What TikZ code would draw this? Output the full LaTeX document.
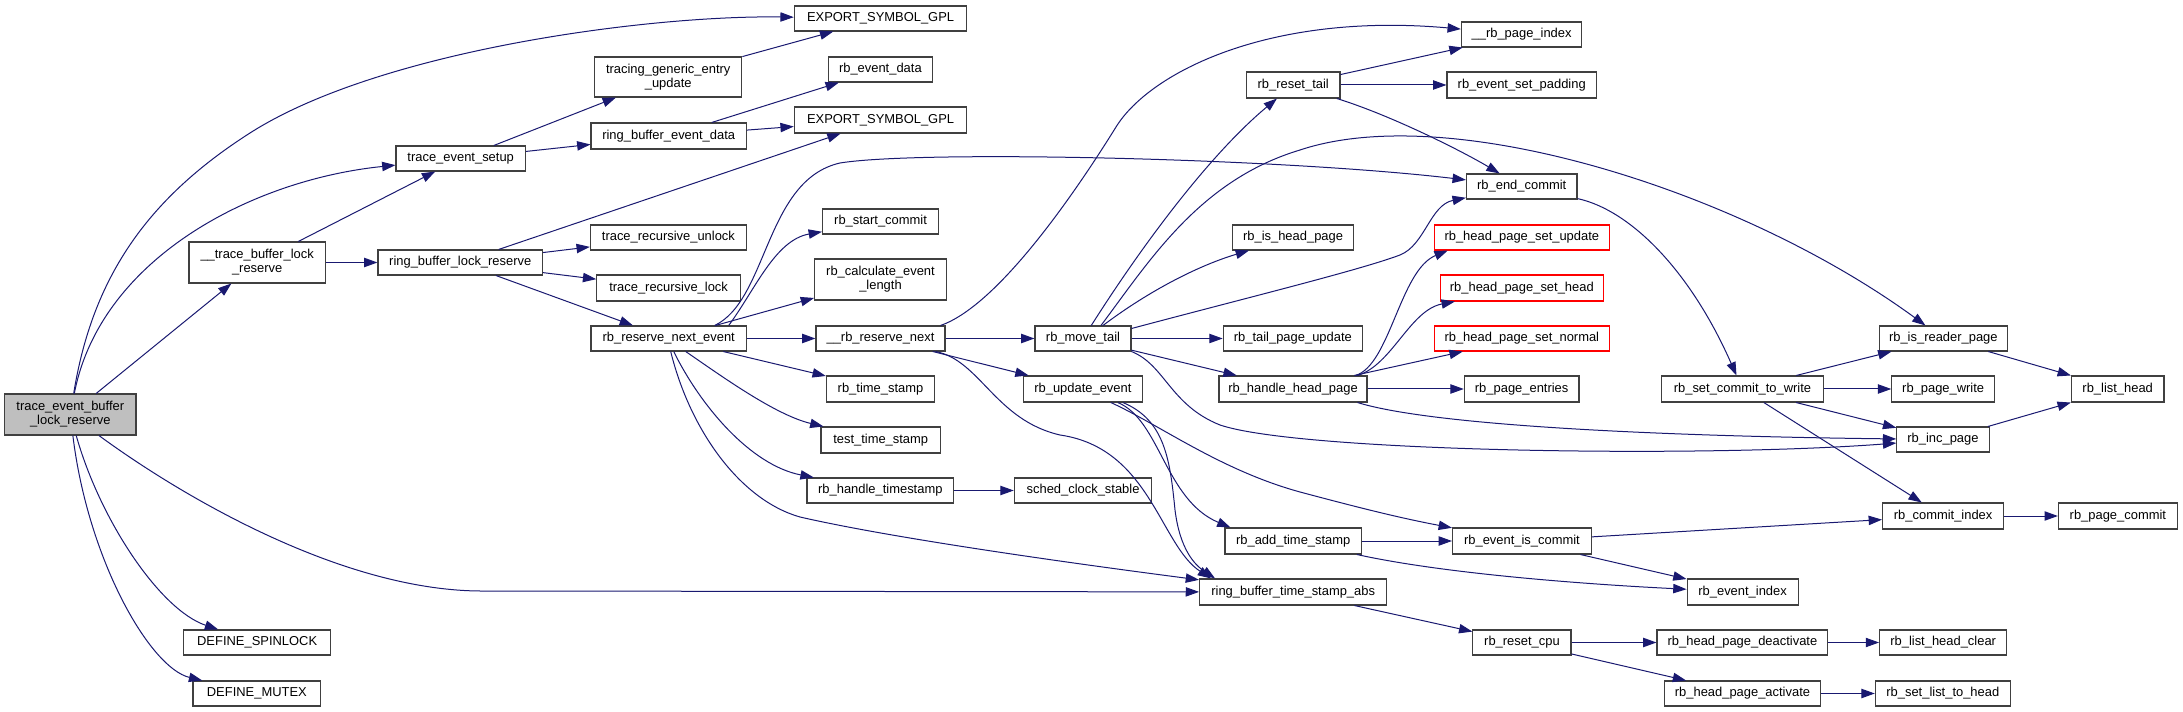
\documentclass[tikz,border=0pt]{standalone}
\usepackage{fontspec}
\setmainfont{Liberation Sans}
\usetikzlibrary{arrows.meta,calc}
\definecolor{edgecol}{HTML}{191970}
\definecolor{boxcol}{HTML}{404040}
\definecolor{rootfill}{HTML}{BFBFBF}
\tikzset{
  fn/.style={draw=boxcol, line width=0.8pt, fill=white, inner sep=0pt, align=center,
    font=\fontsize{9.7}{10.5}\selectfont},
  rootfn/.style={fill=rootfill},
  undoc/.style={draw=red},
  call/.style={draw=edgecol, line width=0.75pt, -{Triangle[length=10pt,width=7pt]}}
}
\newcommand{\fnode}[7][]{\node[fn,#1,minimum width={(#5-#3)*0.75pt},minimum height={(#6-#4)*0.75pt}] (#2) at ({(#3+#5)/2},{(#4+#6)/2}) {#7};}
\begin{document}
\begin{tikzpicture}[x=0.75pt,y=-0.75pt]
\useasboundingbox (0,0) rectangle (2183,712);
% nodes
\fnode[rootfn]{tebr}{4.6}{394}{136}{435}{trace\_event\_buffer\\\_lock\_reserve}
\fnode{tblr}{189}{242}{325.4}{283}{\_\_trace\_buffer\_lock\\\_reserve}
\fnode{spin}{183.6}{630}{330.7}{655}{DEFINE\_SPINLOCK}
\fnode{mutex}{193}{681}{320.7}{706}{DEFINE\_MUTEX}
\fnode{tes}{396}{146}{525.4}{171}{trace\_event\_setup}
\fnode{rblr}{378}{250}{542.5}{275}{ring\_buffer\_lock\_reserve}
\fnode{esg1}{794.3}{6}{966.8}{31}{EXPORT\_SYMBOL\_GPL}
\fnode{tgeu}{594.6}{57}{741.8}{97}{tracing\_generic\_entry\\\_update}
\fnode{red}{828.2}{57}{932.5}{82}{rb\_event\_data}
\fnode{rbed}{591}{123}{746.4}{149}{ring\_buffer\_event\_data}
\fnode{esg2}{794.3}{107}{966.8}{133}{EXPORT\_SYMBOL\_GPL}
\fnode{tru}{590.4}{225}{746.4}{250}{trace\_recursive\_unlock}
\fnode{trl}{596.8}{275}{740.4}{301}{trace\_recursive\_lock}
\fnode{rrne}{591}{326}{746.4}{351}{rb\_reserve\_next\_event}
\fnode{rsc}{822.5}{209}{938.6}{234}{rb\_start\_commit}
\fnode{rcel}{814.6}{259}{946.4}{300}{rb\_calculate\_event\\\_length}
\fnode{rrn}{816}{326}{945}{351}{\_\_rb\_reserve\_next}
\fnode{rts}{826.4}{376}{934.6}{402}{rb\_time\_stamp}
\fnode{tts}{821}{427}{940.4}{453}{test\_time\_stamp}
\fnode{rhts}{807}{478}{953.6}{503}{rb\_handle\_timestamp}
\fnode{scs}{1014.3}{478}{1151.8}{503}{sched\_clock\_stable}
\fnode{rue}{1023.2}{376}{1142.5}{402}{rb\_update\_event}
\fnode{rmt}{1035}{326}{1131}{351}{rb\_move\_tail}
\fnode{rpi}{1461.4}{22}{1581.8}{47}{\_\_rb\_page\_index}
\fnode{rrt}{1246.4}{72}{1340}{98}{rb\_reset\_tail}
\fnode{resp}{1447}{72}{1596.4}{98}{rb\_event\_set\_padding}
\fnode{rec}{1466.4}{174}{1577}{199}{rb\_end\_commit}
\fnode{rihp}{1232.9}{225}{1353.2}{250}{rb\_is\_head\_page}
\fnode[undoc]{rhpsu}{1434.3}{225}{1609.3}{250}{rb\_head\_page\_set\_update}
\fnode[undoc]{rhpsh}{1440.4}{275}{1603.2}{301}{rb\_head\_page\_set\_head}
\fnode{rtpu}{1223.2}{326}{1362.5}{351}{rb\_tail\_page\_update}
\fnode[undoc]{rhpsn}{1434.3}{326}{1609.3}{351}{rb\_head\_page\_set\_normal}
\fnode{rhhp}{1219}{376}{1367}{402}{rb\_handle\_head\_page}
\fnode{rpe}{1464.3}{376}{1579}{402}{rb\_page\_entries}
\fnode{rats}{1225}{528}{1361.4}{554}{rb\_add\_time\_stamp}
\fnode{reic}{1452.5}{528}{1591.4}{554}{rb\_event\_is\_commit}
\fnode{rbtsa}{1199.6}{579}{1386.8}{605}{ring\_buffer\_time\_stamp\_abs}
\fnode{rrc}{1472.9}{630}{1571}{655}{rb\_reset\_cpu}
\fnode{rirp}{1879.2}{326}{2007.4}{351}{rb\_is\_reader\_page}
\fnode{rscw}{1661.7}{376}{1823.2}{402}{rb\_set\_commit\_to\_write}
\fnode{rpw}{1891.8}{376}{1994.5}{402}{rb\_page\_write}
\fnode{rlh}{2071.3}{376}{2164}{402}{rb\_list\_head}
\fnode{rip}{1896.8}{427}{1989.1}{452}{rb\_inc\_page}
\fnode{rci}{1882.5}{503}{2003.8}{529}{rb\_commit\_index}
\fnode{rpc}{2058.4}{503}{2177.3}{529}{rb\_page\_commit}
\fnode{rei}{1687.1}{579}{1798.1}{605}{rb\_event\_index}
\fnode{rhpd}{1657}{630}{1827.9}{655}{rb\_head\_page\_deactivate}
\fnode{rlhc}{1879.6}{630}{2006.7}{655}{rb\_list\_head\_clear}
\fnode{rhpa}{1664.5}{681}{1820.4}{706}{rb\_head\_page\_activate}
\fnode{rsltoh}{1875.3}{681}{2010.3}{706}{rb\_set\_list\_to\_head}
% edges from trace_event_buffer_lock_reserve
\draw[call] (tebr) .. controls (92,280) and (145,200) .. (250,133) .. controls (380,50) and (650,15) .. (esg1);
\draw[call] (tebr) .. controls (100,260) and (250,180) .. (tes);
\draw[call] (tebr) -- (tblr);
\draw[call] (tebr) .. controls (180,495) and (340,590) .. (480,591) -- (rbtsa);
\draw[call] (tebr) .. controls (100,520) and (160,610) .. (spin);
\draw[call] (tebr) .. controls (88,560) and (150,668) .. (mutex);
% __trace_buffer_lock_reserve
\draw[call] (tblr) -- (tes);
\draw[call] (tblr) -- (rblr);
% trace_event_setup
\draw[call] (tes) -- (tgeu);
\draw[call] (tes) -- (rbed);
\draw[call] (tgeu) -- (esg1);
\draw[call] (rbed) -- (red);
\draw[call] (rbed) -- (esg2);
% ring_buffer_lock_reserve
\draw[call] (rblr) -- (esg2);
\draw[call] (rblr) -- (tru);
\draw[call] (rblr) -- (trl);
\draw[call] (rblr) -- (rrne);
% rb_reserve_next_event
\draw[call] ($(rrne.north)+(46,0)$) .. controls (768,300) and (765,180) .. (840,163) .. controls (920,150) and (1280,158) .. (rec);
\draw[call] ($(rrne.north)+(60,0)$) .. controls (755,290) and (775,240) .. (rsc);
\draw[call] (rrne) -- (rcel);
\draw[call] (rrne) -- (rrn);
\draw[call] (rrne) -- (rts);
\draw[call] ($(rrne.south)+(17,0)$) .. controls (720,375) and (775,415) .. (tts);
\draw[call] ($(rrne.south)+(5,0)$) .. controls (700,405) and (750,465) .. (rhts);
\draw[call] ($(rrne.south)+(2,0)$) .. controls (690,430) and (740,500) .. (800,517) .. controls (900,540) and (1100,567) .. (rbtsa);
\draw[call] (rhts) -- (scs);
% __rb_reserve_next
\draw[call] ($(rrn.north)+(60,0)$) .. controls (1000,305) and (1080,185) .. (1116,127) .. controls (1150,72) and (1270,12) .. (rpi);
\draw[call] (rrn) -- (rmt);
\draw[call] (rrn) -- (rue);
\draw[call] ($(rrn.south)+(55,0)$) .. controls (980,360) and (995,420) .. (1060,435) .. controls (1150,448) and (1160,545) .. ($(rbtsa.north west)+(12,0)$);
% rb_move_tail
\draw[call] (rmt) .. controls (1150,233) and (1215,150) .. (rrt);
\draw[call] ($(rmt.north)+(18,0)$) .. controls (1150,260) and (1200,180) .. (1300,150) .. controls (1450,100) and (1740,190) .. (rirp);
\draw[call] ($(rmt.east)+(0,-10)$) .. controls (1250,297) and (1360,270) .. (1400,255) .. controls (1425,245) and (1430,205) .. (rec);
\draw[call] ($(rmt.north)+(20,0)$) .. controls (1150,290) and (1200,265) .. (rihp);
\draw[call] (rmt) -- (rtpu);
\draw[call] (rmt) -- (rhhp);
\draw[call] (rmt.south east) .. controls (1165,365) and (1170,405) .. (1220,425) .. controls (1300,452) and (1700,458) .. (rip);
% rb_reset_tail
\draw[call] (rrt) -- (rpi);
\draw[call] (rrt) -- (resp);
\draw[call] (rrt) .. controls (1390,115) and (1460,150) .. (rec);
\draw[call] (rec) .. controls (1630,210) and (1690,270) .. (rscw);
% rb_handle_head_page
\draw[call] ($(rhhp.north east)+(-12,0)$) .. controls (1390,365) and (1400,270) .. ($(rhpsu.south west)+(14,0)$);
\draw[call] ($(rhhp.north east)+(-10,0)$) .. controls (1392,365) and (1410,310) .. ($(rhpsh.south west)+(15,0)$);
\draw[call] (rhhp) -- (rhpsn);
\draw[call] (rhhp) -- (rpe);
\draw[call] ($(rhhp.south east)+(-10,0)$) .. controls (1430,425) and (1650,436) .. (rip);
% rb_update_event
\draw[call] ($(rue.south)+(35,0)$) .. controls (1160,420) and (1165,500) .. ($(rats.north west)+(6,0)$);
\draw[call] ($(rue.south)+(28,0)$) .. controls (1160,425) and (1220,470) .. (1300,492) .. controls (1360,508) and (1400,518) .. (reic);
\draw[call] ($(rue.south)+(40,0)$) .. controls (1165,420) and (1170,460) .. (1175,510) .. controls (1180,550) and (1195,565) .. ($(rbtsa.north west)+(16,0)$);
% rb_add_time_stamp, rb_event_is_commit
\draw[call] (rats) -- (reic);
\draw[call] ($(rats.south east)+(-5,0)$) .. controls (1450,575) and (1600,585) .. (rei);
\draw[call] (reic) -- (rci);
\draw[call] (reic) -- (rei);
% ring_buffer_time_stamp_abs
\draw[call] (rbtsa) -- (rrc);
\draw[call] (rrc) -- (rhpd);
\draw[call] (rrc) -- (rhpa);
\draw[call] (rhpd) -- (rlhc);
\draw[call] (rhpa) -- (rsltoh);
% rb_set_commit_to_write
\draw[call] (rscw) -- (rirp);
\draw[call] (rscw) -- (rpw);
\draw[call] (rscw) -- (rip);
\draw[call] (rscw) -- (rci);
\draw[call] (rirp) -- (rlh);
\draw[call] (rip) -- (rlh);
\draw[call] (rci) -- (rpc);
\end{tikzpicture}
\end{document}
